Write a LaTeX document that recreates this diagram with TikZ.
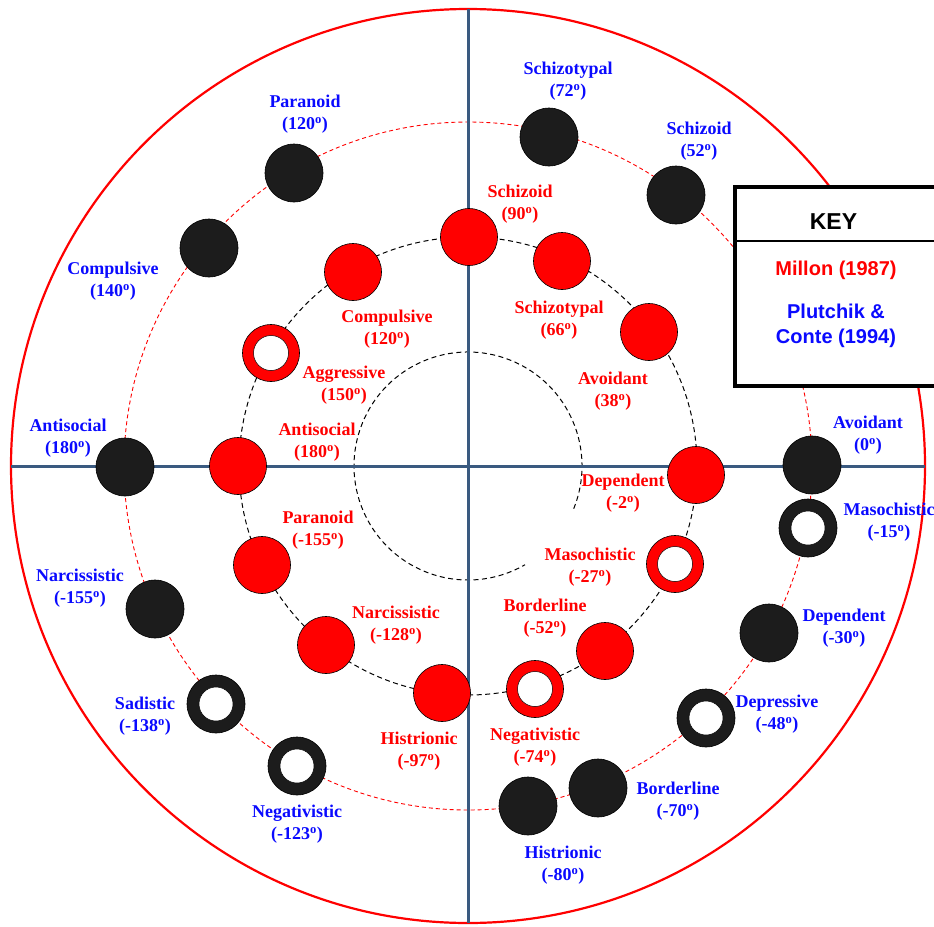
\documentclass[tikz,border=0pt]{standalone}
\usepackage{fontspec}
\setmainfont{Liberation Serif}
\newfontfamily\keyfont{Liberation Sans}
\definecolor{axisblue}{RGB}{58,90,128}
\definecolor{dotblack}{RGB}{28,28,28}
\definecolor{millonred}{RGB}{255,0,0}
\definecolor{plutblue}{RGB}{10,10,255}
\newcommand\degsup{\textsuperscript{o}}
\begin{document}
\begin{tikzpicture}[x=1pt,y=-1pt,
  pdot/.style={circle,draw=black,line width=0.6pt,fill=dotblack,minimum size=58pt,inner sep=0pt},
  phole/.style={circle,draw=black,line width=0.5pt,fill=white,minimum size=34pt,inner sep=0pt},
  mdot/.style={circle,draw=black,line width=0.6pt,fill=millonred,minimum size=57pt,inner sep=0pt},
  mhole/.style={circle,draw=black,line width=0.5pt,fill=white,minimum size=35pt,inner sep=0pt},
  plab/.style={text=plutblue,font=\bfseries\fontsize{18}{22}\selectfont,align=center,inner sep=0pt},
  mlab/.style={text=millonred,font=\bfseries\fontsize{18}{22}\selectfont,align=center,inner sep=0pt},
  axisline/.style={draw=axisblue,line width=3pt},
  ringdash/.style={draw=black,line width=1pt,dash pattern=on 5pt off 3.5pt},
  reddash/.style={draw=millonred,line width=0.9pt,dash pattern=on 4pt off 3pt},
  keytext/.style={font=\keyfont\bfseries\fontsize{20}{25}\selectfont,align=center,inner sep=0pt}]
\useasboundingbox (0,0) rectangle (934,926);
\fill[white] (0,0) rectangle (934,926);

\coordinate (c) at (468,466);

% rings
\draw[draw=millonred,line width=2.2pt] (c) circle[radius=457pt];
\draw[reddash] (c) circle[radius=344pt];
\draw[ringdash] (c) circle[radius=229pt];
\draw[ringdash] (c) ++(-22:114pt) arc[start angle=-22,end angle=300,radius=114pt];

% axes
\coordinate (axL) at (11,466);
\coordinate (axR) at (925,466);
\coordinate (axT) at (468,9);
\coordinate (axB) at (468,923);
\draw[axisline] (axL) -- (axR);
\draw[axisline] (axT) -- (axB);

% Plutchik & Conte (1994)
\node[pdot] (p-schizotypal) at (549,137) {};
\node[pdot] (p-schizoid) at (676,195) {};
\node[pdot] (p-paranoid) at (294,173) {};
\node[pdot] (p-compulsive) at (209,248) {};
\node[pdot] (p-antisocial) at (125,467) {};
\node[pdot] (p-narcissistic) at (155,609) {};
\node[pdot] (p-sadistic) at (216,704) {};
\node[phole] at (p-sadistic) {};
\node[pdot] (p-negativistic) at (297,766) {};
\node[phole] at (p-negativistic) {};
\node[pdot] (p-histrionic) at (528,806) {};
\node[pdot] (p-borderline) at (598,788) {};
\node[pdot] (p-depressive) at (706,718) {};
\node[phole] at (p-depressive) {};
\node[pdot] (p-dependent) at (769,633) {};
\node[pdot] (p-masochistic) at (808,528) {};
\node[phole] at (p-masochistic) {};
\node[pdot] (p-avoidant) at (812,465) {};

% Millon (1987)
\node[mdot] (m-schizoid) at (469,237) {};
\node[mdot] (m-schizotypal) at (562,261) {};
\node[mdot] (m-avoidant) at (649,332) {};
\node[mdot] (m-dependent) at (696,475) {};
\node[mdot] (m-masochistic) at (675,564) {};
\node[mhole] at (m-masochistic) {};
\node[mdot] (m-borderline) at (605,651) {};
\node[mdot] (m-negativistic) at (535,689) {};
\node[mhole] at (m-negativistic) {};
\node[mdot] (m-histrionic) at (442,693) {};
\node[mdot] (m-narcissistic) at (326,645) {};
\node[mdot] (m-paranoid) at (262,565) {};
\node[mdot] (m-antisocial) at (238,466) {};
\node[mdot] (m-aggressive) at (271,353) {};
\node[mhole] at (m-aggressive) {};
\node[mdot] (m-compulsive) at (353,272) {};

% Plutchik labels
\node[plab] (lp-paranoid) at (305,114) {Paranoid\\(120\degsup)};
\node[plab] (lp-schizotypal) at (568,81) {Schizotypal\\(72\degsup)};
\node[plab] (lp-schizoid) at (699,141) {Schizoid\\(52\degsup)};
\node[plab] (lp-compulsive) at (113,281) {Compulsive\\(140\degsup)};
\node[plab] (lp-antisocial) at (68,438) {Antisocial\\(180\degsup)};
\node[plab] (lp-avoidant) at (868,435) {Avoidant\\(0\degsup)};
\node[plab] (lp-masochistic) at (889,522) {Masochistic\\(-15\degsup)};
\node[plab] (lp-dependent) at (844,628) {Dependent\\(-30\degsup)};
\node[plab] (lp-depressive) at (777,714) {Depressive\\(-48\degsup)};
\node[plab] (lp-borderline) at (678,801) {Borderline\\(-70\degsup)};
\node[plab] (lp-histrionic) at (563,865) {Histrionic\\(-80\degsup)};
\node[plab] (lp-negativistic) at (297,824) {Negativistic\\(-123\degsup)};
\node[plab] (lp-sadistic) at (145,716) {Sadistic\\(-138\degsup)};
\node[plab] (lp-narcissistic) at (80,588) {Narcissistic\\(-155\degsup)};

% Millon labels
\node[mlab] (lm-schizoid) at (520,204) {Schizoid\\(90\degsup)};
\node[mlab] (lm-schizotypal) at (559,320) {Schizotypal\\(66\degsup)};
\node[mlab] (lm-compulsive) at (387,329) {Compulsive\\(120\degsup)};
\node[mlab] (lm-aggressive) at (344,385) {Aggressive\\(150\degsup)};
\node[mlab] (lm-avoidant) at (613,391) {Avoidant\\(38\degsup)};
\node[mlab] (lm-antisocial) at (317,442) {Antisocial\\(180\degsup)};
\node[mlab] (lm-dependent) at (623,493) {Dependent\\(-2\degsup)};
\node[mlab] (lm-paranoid) at (318,530) {Paranoid\\(-155\degsup)};
\node[mlab] (lm-masochistic) at (590,567) {Masochistic\\(-27\degsup)};
\node[mlab] (lm-borderline) at (545,618) {Borderline\\(-52\degsup)};
\node[mlab] (lm-narcissistic) at (396,625) {Narcissistic\\(-128\degsup)};
\node[mlab] (lm-histrionic) at (419,751) {Histrionic\\(-97\degsup)};
\node[mlab] (lm-negativistic) at (535,747) {Negativistic\\(-74\degsup)};

% key box
\draw[line width=4pt,fill=white] (735,187) rectangle (938,386);
\draw[line width=2.3pt] (735,241) -- (938,241);
\node[keytext,font=\keyfont\bfseries\fontsize{23}{27}\selectfont] (key-title) at (833.5,222) {KEY};
\node[keytext,text=millonred] (key-millon) at (836,270) {Millon (1987)};
\node[keytext,text=plutblue] (key-plut) at (836,326) {Plutchik \&\\Conte (1994)};
\end{tikzpicture}
\end{document}
